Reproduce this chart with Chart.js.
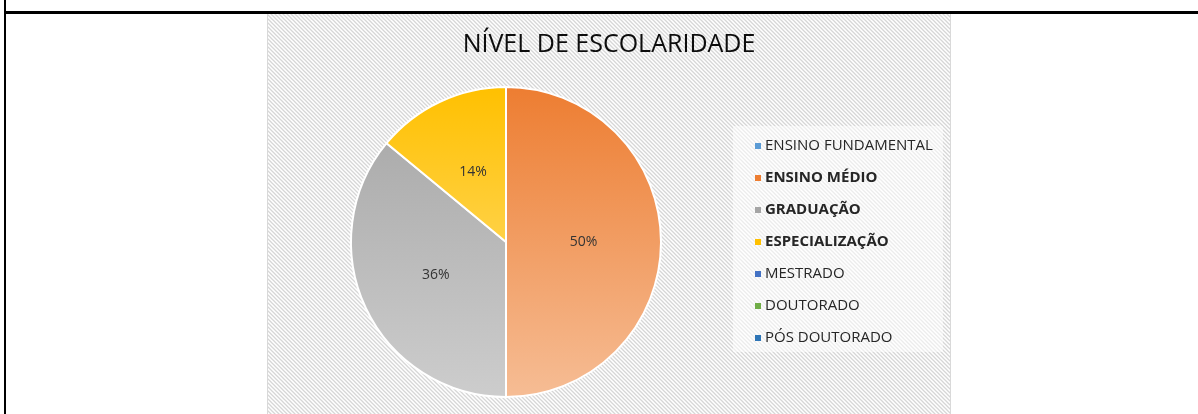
<!DOCTYPE html>
<html>
<head>
<meta charset="utf-8">
<script src="https://cdn.jsdelivr.net/npm/chart.js@4.4.0/dist/chart.umd.min.js"></script>
<style>
  html, body { margin: 0; padding: 0; background: #fff; }
  body { width: 1198px; height: 414px; position: relative; overflow: hidden; }
  .lineH { position: absolute; left: 4px; top: 11px; width: 1194px; height: 3px; background: #000; }
  .lineV { position: absolute; left: 4px; top: 0; width: 2px; height: 414px; background: #000; }
  .box { position: absolute; left: 267px; top: 14px; width: 684px; height: 400px; }
</style>
</head>
<body>
<div class="lineH"></div>
<div class="lineV"></div>
<div class="box"><canvas id="myChart" width="684" height="400"></canvas></div>
<script>
// dados do grafico
let chartTitle = "NÍVEL DE ESCOLARIDADE"
let categorias = ["ENSINO FUNDAMENTAL", "ENSINO MÉDIO", "GRADUAÇÃO", "ESPECIALIZAÇÃO", "MESTRADO", "DOUTORADO", "PÓS DOUTORADO"]
let valores = [0, 50, 36, 14, 0, 0, 0]
let cores = ["#5B9BD5", "#ED7D31", "#A5A5A5", "#FFC000", "#4472C4", "#70AD47", "#2E75B6"]
let coresClaras = ["#9DC3E6", "#F6BD95", "#CDCDCD", "#FFE38A", "#8FAADC", "#A9D18E", "#7FA9D6"]

// fundo listrado
function hatchPattern(ctx) {
  const p = document.createElement("canvas")
  p.width = 4
  p.height = 4
  const c = p.getContext("2d")
  c.fillStyle = "#ffffff"
  c.fillRect(0, 0, 4, 4)
  c.strokeStyle = "#d6d6d6"
  c.lineWidth = 1.3
  c.beginPath()
  c.moveTo(-1, -1); c.lineTo(5, 5)
  c.moveTo(-1, 3); c.lineTo(1, 5)
  c.moveTo(3, -1); c.lineTo(5, 1)
  c.stroke()
  return ctx.createPattern(p, "repeat")
}

const fundo = {
  id: "fundo",
  beforeDraw(chart) {
    const ctx = chart.ctx
    ctx.save()
    ctx.fillStyle = hatchPattern(ctx)
    ctx.fillRect(0, 0, chart.width, chart.height)
    ctx.strokeStyle = "#d9d9d9"
    ctx.lineWidth = 1
    ctx.strokeRect(0.5, -1, chart.width - 1, chart.height + 2)
    // titulo
    ctx.fillStyle = "#0d0d0d"
    ctx.font = "25px 'Open Sans'"
    ctx.textAlign = "center"
    ctx.textBaseline = "middle"
    ctx.fillText(chartTitle, chart.width / 2, 31)
    ctx.restore()
  }
}

const rotulos = {
  id: "rotulos",
  afterDatasetsDraw(chart) {
    const ctx = chart.ctx
    const meta = chart.getDatasetMeta(0)
    ctx.save()
    ctx.fillStyle = "#333333"
    ctx.font = "14px 'Open Sans'"
    ctx.textAlign = "center"
    ctx.textBaseline = "middle"
    meta.data.forEach((arc, i) => {
      if (!valores[i]) return
      const pos = arc.tooltipPosition()
      ctx.fillText(valores[i] + "%", pos.x, pos.y)
    })
    ctx.restore()
  }
}

// legenda desenhada a mao (alguns itens em negrito)
const legenda = {
  id: "legenda",
  afterDraw(chart) {
    const ctx = chart.ctx
    ctx.save()
    ctx.fillStyle = "rgba(255,255,255,0.55)"
    ctx.fillRect(466, 112, 210, 226)
    ctx.textBaseline = "middle"
    categorias.forEach((nome, i) => {
      const y = 132 + i * 32
      ctx.fillStyle = cores[i]
      ctx.fillRect(488, y - 3, 6, 6)
      ctx.fillStyle = "#262626"
      ctx.font = (valores[i] ? "bold " : "") + "15px 'Open Sans'"
      ctx.fillText(nome, 498, y)
    })
    ctx.restore()
  }
}

function gradiente(c) {
  const i = c.dataIndex
  const area = c.chart.chartArea
  if (!area || i === undefined) return cores[i] || "#ffffff"
  const g = c.chart.ctx.createLinearGradient(0, area.top, 0, area.bottom)
  g.addColorStop(0, cores[i])
  g.addColorStop(1, coresClaras[i])
  return g
}

const ctx = document.getElementById("myChart").getContext("2d")
const myChart = new Chart(ctx, {
  type: "pie",
  data: {
    labels: categorias,
    datasets: [{
      data: valores,
      backgroundColor: gradiente,
      borderColor: "#ffffff",
      borderWidth: 2,
    }],
  },
  options: {
    responsive: false,
    animation: false,
    events: [],
    layout: { padding: { left: 83, right: 289, top: 72, bottom: 16 } },
    plugins: {
      legend: { display: false },
      tooltip: { enabled: false },
    },
  },
  plugins: [fundo, rotulos, legenda],
})
</script>
</body>
</html>
